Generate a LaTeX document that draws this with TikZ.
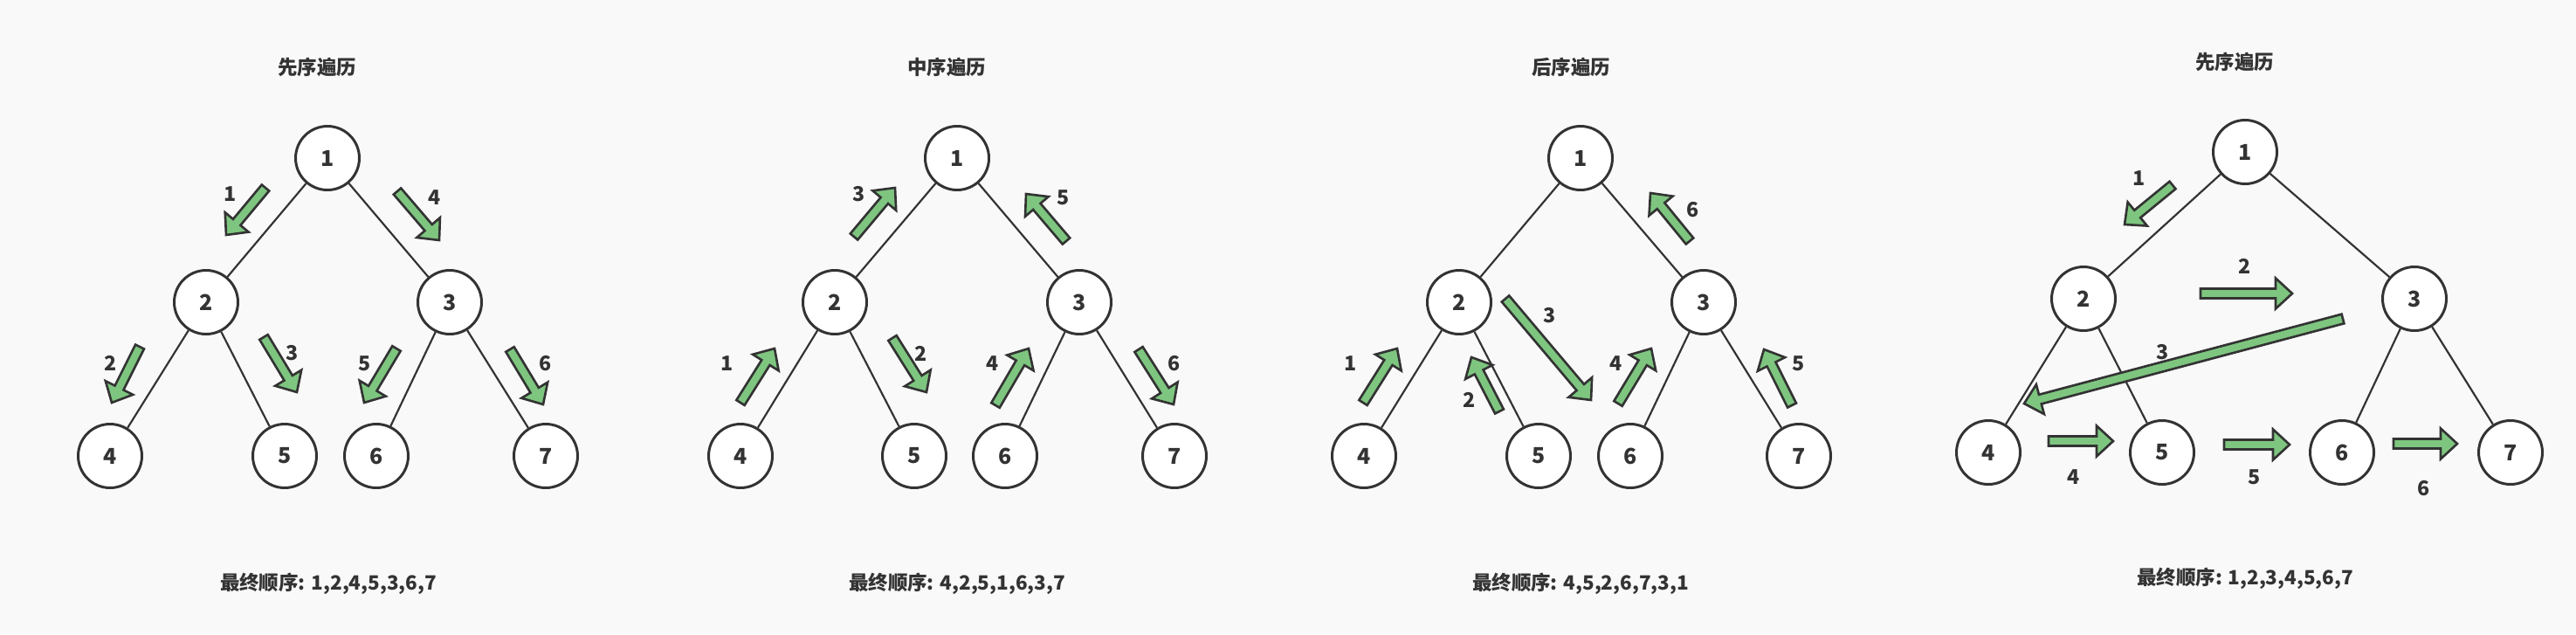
\documentclass[tikz,border=0pt]{standalone}
\usepackage{fontspec}
\setmainfont{Noto Sans CJK SC}
\usetikzlibrary{calc}
\definecolor{bggray}{RGB}{249,249,249}
\definecolor{inkgray}{RGB}{51,51,51}
\definecolor{leafgreen}{RGB}{126,198,128}
% green block arrow from #1 to #2
\newcommand{\steparrow}[2]{%
  \path #1 coordinate (s) #2 coordinate (e);
  \path ($(e)!0.19cm!(s)$) coordinate (h);
  \draw[flowarrow] ($(s)!0.055cm!90:(e)$) -- ($(h)!0.055cm!90:(e)$)
    -- ($(h)!0.175cm!90:(e)$) -- (e) -- ($(h)!0.175cm!-90:(e)$)
    -- ($(h)!0.055cm!-90:(e)$) -- ($(s)!0.055cm!-90:(e)$) -- cycle;}
\begin{document}
\begin{tikzpicture}[
  vertex/.style={circle,draw=inkgray,line width=0.85pt,fill=white,minimum size=0.73cm,
    inner sep=0pt,text=inkgray,font=\fontsize{7.1}{8}\selectfont\bfseries},
  branch/.style={draw=inkgray,line width=0.62pt},
  flowarrow/.style={draw=inkgray,fill=leafgreen,line width=0.75pt,line join=miter},
  lbl/.style={text=inkgray,inner sep=0pt,font=\fontsize{6.6}{8}\selectfont\bfseries},
  heading/.style={text=inkgray,inner sep=0pt,font=\fontsize{6.4}{8}\selectfont\bfseries},
  result/.style={text=inkgray,inner sep=0pt,font=\fontsize{6.4}{8}\selectfont\bfseries}]
\fill[bggray] (0,0) rectangle (29.5,7.26);
%
% preorder
\node[heading] (ta) at (3.63,6.49) {先序遍历};
\node[vertex] (a1) at (3.75,5.45) {1};
\node[vertex] (a2) at (2.36,3.80) {2};
\node[vertex] (a3) at (5.15,3.80) {3};
\node[vertex] (a4) at (1.26,2.04) {4};
\node[vertex] (a5) at (3.26,2.04) {5};
\node[vertex] (a6) at (4.31,2.04) {6};
\node[vertex] (a7) at (6.25,2.04) {7};
\draw[branch] (a1) -- (a2); \draw[branch] (a1) -- (a3);
\draw[branch] (a2) -- (a4); \draw[branch] (a2) -- (a5);
\draw[branch] (a3) -- (a6); \draw[branch] (a3) -- (a7);
\steparrow{(3.04,5.11)}{(2.59,4.57)}
\steparrow{(4.55,5.07)}{(5.03,4.51)}
\steparrow{(1.60,3.29)}{(1.28,2.65)}
\steparrow{(3.02,3.40)}{(3.40,2.77)}
\steparrow{(4.54,3.27)}{(4.17,2.65)}
\steparrow{(5.84,3.26)}{(6.22,2.63)}
\node[lbl] (la1) at (2.64,5.04) {1};
\node[lbl] (la4) at (4.98,5.00) {4};
\node[lbl] (la2) at (1.27,3.10) {2};
\node[lbl] (la3) at (3.35,3.22) {3};
\node[lbl] (la5) at (4.18,3.10) {5};
\node[lbl] (la6) at (6.25,3.10) {6};
\node[result] (ra) at (3.76,0.58) {最终顺序: 1,2,4,5,3,6,7};
%
% inorder
\node[heading] (tb) at (10.84,6.49) {中序遍历};
\node[vertex] (b1) at (10.96,5.45) {1};
\node[vertex] (b2) at (9.56,3.80) {2};
\node[vertex] (b3) at (12.36,3.80) {3};
\node[vertex] (b4) at (8.48,2.04) {4};
\node[vertex] (b5) at (10.47,2.04) {5};
\node[vertex] (b6) at (11.51,2.04) {6};
\node[vertex] (b7) at (13.45,2.04) {7};
\draw[branch] (b1) -- (b2); \draw[branch] (b1) -- (b3);
\draw[branch] (b2) -- (b4); \draw[branch] (b2) -- (b5);
\draw[branch] (b3) -- (b6); \draw[branch] (b3) -- (b7);
\steparrow{(8.48,2.65)}{(8.87,3.27)}
\steparrow{(10.22,3.39)}{(10.61,2.77)}
\steparrow{(9.78,4.55)}{(10.25,5.11)}
\steparrow{(11.40,2.62)}{(11.78,3.27)}
\steparrow{(12.21,4.50)}{(11.75,5.04)}
\steparrow{(13.04,3.26)}{(13.44,2.63)}
\node[lbl] (lb1) at (8.33,3.10) {1};
\node[lbl] (lb2) at (10.55,3.21) {2};
\node[lbl] (lb3) at (9.84,5.04) {3};
\node[lbl] (lb4) at (11.37,3.10) {4};
\node[lbl] (lb5) at (12.18,5.00) {5};
\node[lbl] (lb6) at (13.45,3.10) {6};
\node[result] (rb) at (10.96,0.58) {最终顺序: 4,2,5,1,6,3,7};
%
% postorder
\node[heading] (tc) at (17.99,6.49) {后序遍历};
\node[vertex] (c1) at (18.10,5.45) {1};
\node[vertex] (c2) at (16.71,3.80) {2};
\node[vertex] (c3) at (19.51,3.80) {3};
\node[vertex] (c4) at (15.62,2.04) {4};
\node[vertex] (c5) at (17.62,2.04) {5};
\node[vertex] (c6) at (18.67,2.04) {6};
\node[vertex] (c7) at (20.60,2.04) {7};
\draw[branch] (c1) -- (c2); \draw[branch] (c1) -- (c3);
\draw[branch] (c2) -- (c4); \draw[branch] (c2) -- (c5);
\draw[branch] (c3) -- (c6); \draw[branch] (c3) -- (c7);
\steparrow{(15.61,2.65)}{(16.00,3.27)}
\steparrow{(17.17,2.55)}{(16.85,3.17)}
\steparrow{(17.24,3.84)}{(18.22,2.68)}
\steparrow{(18.53,2.64)}{(18.91,3.27)}
\steparrow{(20.52,2.62)}{(20.20,3.26)}
\steparrow{(19.35,4.50)}{(18.90,5.05)}
\node[lbl] (lc1) at (15.47,3.10) {1};
\node[lbl] (lc2) at (16.83,2.68) {2};
\node[lbl] (lc3) at (17.75,3.65) {3};
\node[lbl] (lc4) at (18.51,3.10) {4};
\node[lbl] (lc5) at (20.60,3.10) {5};
\node[lbl] (lc6) at (19.39,4.86) {6};
\node[result] (rc) at (18.10,0.58) {最终顺序: 4,5,2,6,7,3,1};
%
% level order
\node[heading] (td) at (25.59,6.55) {先序遍历};
\node[vertex] (d1) at (25.71,5.52) {1};
\node[vertex] (d2) at (23.86,3.84) {2};
\node[vertex] (d3) at (27.65,3.84) {3};
\node[vertex] (d4) at (22.77,2.08) {4};
\node[vertex] (d5) at (24.76,2.08) {5};
\node[vertex] (d6) at (26.82,2.08) {6};
\node[vertex] (d7) at (28.75,2.08) {7};
\draw[branch] (d1) -- (d2); \draw[branch] (d1) -- (d3);
\draw[branch] (d2) -- (d4); \draw[branch] (d2) -- (d5);
\draw[branch] (d3) -- (d6); \draw[branch] (d3) -- (d7);
\steparrow{(24.88,5.14)}{(24.33,4.69)}
\steparrow{(25.20,3.90)}{(26.25,3.90)}
\steparrow{(26.83,3.61)}{(23.18,2.64)}
\steparrow{(23.46,2.21)}{(24.20,2.21)}
\steparrow{(25.47,2.17)}{(26.22,2.17)}
\steparrow{(27.41,2.18)}{(28.14,2.18)}
\node[lbl] (ld1) at (24.50,5.22) {1};
\node[lbl] (ld2) at (25.71,4.21) {2};
\node[lbl] (ld3) at (24.77,3.23) {3};
\node[lbl] (ld4) at (23.75,1.80) {4};
\node[lbl] (ld5) at (25.82,1.80) {5};
\node[lbl] (ld6) at (27.76,1.67) {6};
\node[result] (rd) at (25.71,0.635) {最终顺序: 1,2,3,4,5,6,7};
\end{tikzpicture}
\end{document}
